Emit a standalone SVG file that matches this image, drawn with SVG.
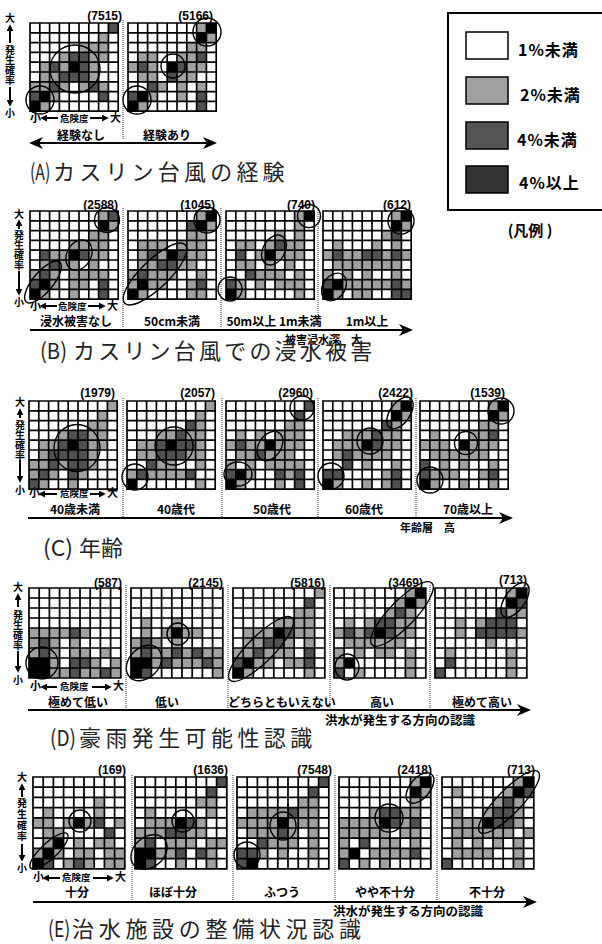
<svg xmlns="http://www.w3.org/2000/svg" xmlns:xlink="http://www.w3.org/1999/xlink" width="602" height="944" viewBox="0 0 602 944">
<style>
.l{fill:none;stroke:#a0a0a0;stroke-width:10}
.d{fill:none;stroke:#505050;stroke-width:10}
.k{fill:none;stroke:#000;stroke-width:10}
.ring{fill:none;stroke:#000;stroke-width:1.4}
.num{font-family:"Liberation Sans",Arial,sans-serif;font-weight:bold;font-size:12px;text-anchor:end;fill:#000}
.cat{font-family:"Noto Sans CJK JP","Liberation Sans",sans-serif;font-weight:bold;font-size:12px;text-anchor:middle;fill:#000}
.sub{font-family:"Noto Sans CJK JP","Liberation Sans",sans-serif;font-weight:bold;font-size:11px;fill:#000}
.vl{font-family:"Noto Sans CJK JP",sans-serif;font-weight:bold;font-size:10px;text-anchor:middle;fill:#000}
.vt{font-family:"Noto Sans CJK JP",sans-serif;font-weight:bold;font-size:10px;writing-mode:vertical-rl;fill:#000}
.hl{font-family:"Noto Sans CJK JP",sans-serif;font-weight:bold;font-size:11px;fill:#000}
.hs{font-family:"Noto Sans CJK JP",sans-serif;font-weight:bold;font-size:9.5px;fill:#000}
.ttl{font-family:"Noto Sans CJK JP","Liberation Sans",sans-serif;font-size:22px;fill:#222}
.leg{font-family:"Noto Sans CJK JP","Liberation Sans",sans-serif;font-weight:bold;font-size:16px;letter-spacing:1px;fill:#000}
.sep{stroke:#333;stroke-width:1;stroke-dasharray:1 1;fill:none}
.sm{stroke:#000;stroke-width:2;fill:none;marker-end:url(#sa)}
.big{stroke:#000;stroke-width:2;fill:none;marker-end:url(#ha)}
.sw{stroke:#000;stroke-width:1.5}
</style>
<defs>
<path id="g" fill="none" stroke="#000" stroke-width="1.7" stroke-linecap="square" d="M0 0V90M10 0V90M20 0V90M30 0V90M40 0V90M50 0V90M60 0V90M70 0V90M80 0V90M90 0V90M0 0H90M0 10H90M0 20H90M0 30H90M0 40H90M0 50H90M0 60H90M0 70H90M0 80H90M0 90H90"/>
<marker id="ha" viewBox="0 0 14 12" refX="12" refY="6" markerWidth="14" markerHeight="12" markerUnits="userSpaceOnUse" orient="auto-start-reverse"><path d="M0 0L14 6L0 12L4 6z" fill="#000"/></marker>
<marker id="sa" viewBox="0 0 8 8" refX="6" refY="4" markerWidth="7" markerHeight="7" markerUnits="userSpaceOnUse" orient="auto"><path d="M0 0L8 4L0 8z" fill="#000"/></marker>
</defs>
<rect width="602" height="944" fill="#fff"/>

<!-- Section A -->
<g id="A1">
<g transform="translate(30,23) scale(.98)">
<path class="l" d="M70 15h10M50 25h30M30 35h10M60 35h20M10 45h10M30 45h10M60 45h10M10 55h20M60 55h10M0 65h20M30 65h10M50 65h10M70 65h10M20 75h10M10 85h10"/>
<path class="d" d="M80 5h10M40 35h20M20 45h10M50 45h10M30 55h30M20 65h10M60 65h10M0 75h10M70 75h10"/>
<path class="k" d="M40 45h10M10 75h10M0 85h10"/>
<use href="#g"/>
</g>
<ellipse class="ring" cx="75" cy="69" rx="25" ry="24"/>
<circle class="ring" cx="40" cy="100" r="14"/>
<text class="num" x="122" y="20">(7515)</text>
</g>
<g id="A2">
<g transform="translate(128,23) scale(.98)">
<path class="l" d="M70 5h10M80 15h10M60 25h20M10 35h20M50 35h20M0 45h10M20 45h10M60 45h20M10 55h20M50 55h20M30 65h10M50 65h10M70 65h10M20 75h10M50 75h10M10 85h10"/>
<path class="d" d="M70 35h10M10 45h10M50 45h10M40 55h10M20 65h10M0 75h10M70 75h10M70 85h10"/>
<path class="k" d="M80 5h10M70 15h10M40 45h10M10 75h10M0 85h10"/>
<use href="#g"/>
</g>
<circle class="ring" cx="207" cy="32" r="14"/>
<circle class="ring" cx="173" cy="66" r="12"/>
<circle class="ring" cx="137" cy="100" r="14"/>
<text class="num" x="213" y="20">(5166)</text>
</g>

<!-- Section B -->
<g id="B1">
<g transform="translate(30,211) scale(.98)">
<path class="l" d="M70 5h10M80 15h10M60 25h20M40 35h40M20 45h20M60 45h20M10 55h10M30 55h20M60 55h10M0 65h10M20 65h10M40 65h40M20 75h10M40 75h20M10 85h10M40 85h10"/>
<path class="d" d="M80 5h10M10 45h10M50 45h10M20 55h10M10 65h10M0 75h10M70 75h10M70 85h10"/>
<path class="k" d="M70 15h10M40 45h10M10 75h10M0 85h10"/>
<use href="#g"/>
</g>
<circle class="ring" cx="107" cy="220" r="12.5"/>
<ellipse class="ring" cx="79" cy="255" rx="16" ry="12" transform="rotate(-60 79 255)"/>
<ellipse class="ring" cx="43" cy="282" rx="26" ry="10" transform="rotate(-50 43 282)"/>
<text class="num" x="118" y="209">(2588)</text>
</g>
<g id="B2">
<g transform="translate(128,211) scale(.98)">
<path class="l" d="M70 5h10M80 15h10M60 25h20M10 35h30M50 35h30M10 45h10M30 45h10M60 45h20M10 55h20M50 55h20M0 65h10M20 65h30M70 65h10M0 75h10M20 75h20M60 75h10M10 85h10M60 85h20"/>
<path class="d" d="M60 15h10M20 45h10M50 45h10M30 55h20M10 65h10M70 75h10"/>
<path class="k" d="M80 5h10M70 15h10M40 45h10M10 75h10M0 85h10"/>
<use href="#g"/>
</g>
<ellipse class="ring" cx="155" cy="274" rx="42" ry="14" transform="rotate(-44 155 274)"/>
<circle class="ring" cx="207" cy="220" r="13"/>
<text class="num" x="215" y="209">(1045)</text>
</g>
<g id="B3">
<g transform="translate(226,211) scale(.98)">
<path class="l" d="M70 5h10M70 15h10M50 25h10M70 25h10M10 35h20M40 35h10M60 35h20M30 45h10M50 45h30M10 55h20M40 55h10M60 55h10M30 65h30M70 65h10M10 75h10M30 75h10M50 75h30M10 85h10M70 85h10"/>
<path class="d" d="M50 35h10M10 45h10M20 65h10M0 75h10"/>
<path class="k" d="M80 5h10M40 45h10M0 85h10"/>
<use href="#g"/>
</g>
<circle class="ring" cx="309" cy="216" r="11.5"/>
<ellipse class="ring" cx="274" cy="250" rx="16" ry="11" transform="rotate(-60 274 250)"/>
<circle class="ring" cx="230" cy="289" r="12"/>
<text class="num" x="315" y="209">(740)</text>
</g>
<g id="B4">
<g transform="translate(323,211) scale(.98)">
<path class="l" d="M70 5h10M80 15h10M60 25h10M10 35h10M50 35h10M70 35h10M0 45h10M20 45h20M60 45h10M80 45h10M10 55h70M0 65h10M20 65h10M40 65h10M70 65h10M20 75h50M80 75h10M10 85h10M30 85h20"/>
<path class="d" d="M70 25h10M10 45h10M40 45h20M70 45h10M0 75h10M70 75h10M70 85h20"/>
<path class="k" d="M80 5h10M70 15h10M10 75h10M0 85h10"/>
<use href="#g"/>
</g>
<circle class="ring" cx="401" cy="221" r="13"/>
<ellipse class="ring" cx="334" cy="287" rx="15" ry="11" transform="rotate(-55 334 287)"/>
<text class="num" x="411" y="209">(612)</text>
</g>

<!-- Section C -->
<g id="C1">
<g transform="translate(29,401) scale(.98)">
<path class="l" d="M80 5h10M70 15h10M60 25h20M30 35h10M60 35h20M10 45h20M60 45h20M10 55h10M60 55h10M0 65h20M30 65h10M60 65h10M0 75h10M20 75h10M50 75h10M10 85h10M40 85h10"/>
<path class="d" d="M40 35h20M30 45h10M50 45h10M20 55h40M20 65h10M40 65h20M10 75h10M40 75h10M0 85h10"/>
<path class="k" d="M40 45h10"/>
<use href="#g"/>
</g>
<ellipse class="ring" cx="77" cy="448" rx="23" ry="23.5"/>
<text class="num" x="115" y="397">(1979)</text>
</g>
<g id="C2">
<g transform="translate(127,401) scale(.98)">
<path class="l" d="M80 5h10M70 15h10M70 25h10M30 35h20M60 35h20M10 45h20M70 45h10M10 55h20M60 55h20M30 65h20M70 65h10M0 75h10M20 75h40M70 85h10"/>
<path class="d" d="M60 25h10M50 35h10M30 45h10M50 45h20M30 55h30M20 65h10M10 75h10M60 75h10"/>
<path class="k" d="M40 45h10M0 85h10"/>
<use href="#g"/>
</g>
<circle class="ring" cx="174" cy="446" r="19"/>
<circle class="ring" cx="135" cy="477" r="13"/>
<text class="num" x="215" y="397">(2057)</text>
</g>
<g id="C3">
<g transform="translate(226,401) scale(.98)">
<path class="l" d="M60 25h20M10 35h10M30 35h10M50 35h30M0 45h10M20 45h20M50 45h30M10 55h20M40 55h30M0 65h10M20 65h10M40 65h40M20 75h10M60 75h10M10 85h10M50 85h10"/>
<path class="d" d="M80 5h10M70 15h10M10 45h10M30 55h10M0 75h10M50 75h10M70 75h10M70 85h10"/>
<path class="k" d="M40 45h10M10 75h10M0 85h10"/>
<use href="#g"/>
</g>
<circle class="ring" cx="302" cy="408" r="12"/>
<ellipse class="ring" cx="270" cy="446" rx="16" ry="11" transform="rotate(-55 270 446)"/>
<ellipse class="ring" cx="238" cy="474" rx="14" ry="12"/>
<text class="num" x="313" y="397">(2960)</text>
</g>
<g id="C4">
<g transform="translate(323,401) scale(.98)">
<path class="l" d="M70 5h10M80 15h10M70 25h10M20 35h30M60 35h20M10 45h30M60 45h20M10 55h10M30 55h40M40 65h10M70 65h10M60 75h10M10 85h10M40 85h10M60 85h10"/>
<path class="d" d="M60 25h10M50 35h10M50 45h10M20 55h10M20 65h10M0 75h20M70 75h10M70 85h10"/>
<path class="k" d="M80 5h10M70 15h10M40 45h10M0 85h10"/>
<use href="#g"/>
</g>
<ellipse class="ring" cx="400" cy="413" rx="18" ry="10" transform="rotate(-55 400 413)"/>
<circle class="ring" cx="370" cy="441" r="13"/>
<circle class="ring" cx="331" cy="476" r="13"/>
<text class="num" x="413" y="397">(2422)</text>
</g>
<g id="C5">
<g transform="translate(420,401) scale(.98)">
<path class="l" d="M70 5h10M80 15h10M60 25h20M10 35h10M50 35h20M0 45h30M50 45h30M10 55h60M20 65h10M40 65h10M70 65h10M10 75h30M60 75h10M10 85h10M40 85h10M70 85h10"/>
<path class="d" d="M70 35h10M0 65h10M0 75h10M70 75h10"/>
<path class="k" d="M80 5h10M70 15h10M40 45h10M0 85h10"/>
<use href="#g"/>
</g>
<circle class="ring" cx="501" cy="411" r="13"/>
<circle class="ring" cx="466" cy="443" r="11.5"/>
<circle class="ring" cx="430" cy="480" r="13"/>
<text class="num" x="505" y="397">(1539)</text>
</g>

<!-- Section D -->
<g id="D1">
<g transform="translate(29,588) scale(1.02,1)">
<path class="l" d="M0 45h40M50 45h10M0 55h10M20 55h10M40 55h10M0 65h10M20 65h10M40 65h20M70 65h10M20 75h10M60 75h10M80 75h10M20 85h20M50 85h20M80 85h10"/>
<path class="d" d="M40 45h10M10 55h10M10 65h10M40 75h20M40 85h10M70 85h10"/>
<path class="k" d="M0 75h20M0 85h20"/>
<use href="#g"/>
</g>
<circle class="ring" cx="42" cy="663" r="16"/>
<text class="num" x="122" y="587">(587)</text>
</g>
<g id="D2">
<g transform="translate(131,588) scale(1.02,1)">
<path class="l" d="M10 35h10M40 35h10M10 45h10M30 45h10M50 45h20M0 55h10M20 55h10M40 55h10M0 65h10M20 65h20M50 65h10M70 65h20M20 75h10M40 75h30M80 75h10M80 85h10"/>
<path class="d" d="M10 55h10M10 65h10M40 65h10M60 65h10M30 75h10M70 75h10M10 85h10"/>
<path class="k" d="M40 45h10M0 75h20M0 85h10"/>
<use href="#g"/>
</g>
<ellipse class="ring" cx="144" cy="663" rx="20" ry="15" transform="rotate(-45 144 663)"/>
<circle class="ring" cx="178" cy="634" r="11"/>
<text class="num" x="223" y="587">(2145)</text>
</g>
<g id="D3">
<g transform="translate(233,588) scale(1.02,1)">
<path class="l" d="M80 5h10M60 25h20M40 35h40M10 45h30M60 45h20M10 55h20M50 55h10M70 55h10M0 65h20M30 65h30M20 75h20M50 75h20M10 85h10M70 85h10"/>
<path class="d" d="M70 15h10M50 45h10M30 55h20M20 65h10M70 65h10M0 75h10M70 75h10"/>
<path class="k" d="M40 45h10M10 75h10M0 85h10"/>
<use href="#g"/>
</g>
<ellipse class="ring" cx="261" cy="649" rx="44" ry="13" transform="rotate(-45 261 649)"/>
<text class="num" x="325" y="587">(5816)</text>
</g>
<g id="D4">
<g transform="translate(334,588) scale(1.02,1)">
<path class="l" d="M70 5h10M60 15h10M80 15h10M50 25h10M70 25h10M10 35h10M30 35h10M60 35h20M0 45h10M20 45h10M60 45h20M10 55h60M0 65h10M20 65h10M40 65h20M70 65h10M0 75h10M70 75h10M20 85h10M70 85h10"/>
<path class="d" d="M60 25h10M40 35h20M10 45h10M30 45h10M50 45h10M0 85h10"/>
<path class="k" d="M80 5h10M70 15h10M40 45h10M10 75h10"/>
<use href="#g"/>
</g>
<ellipse class="ring" cx="402" cy="614" rx="43" ry="13" transform="rotate(-46 402 614)"/>
<ellipse class="ring" cx="347" cy="667" rx="12" ry="13"/>
<text class="num" x="423" y="587">(3469)</text>
</g>
<g id="D5">
<g transform="translate(435,588) scale(1.02,1)">
<path class="l" d="M70 5h10M70 25h20M20 35h10M40 35h10M20 45h10M80 45h10M50 55h10M10 65h10M70 65h10M70 75h10M70 85h10"/>
<path class="d" d="M80 15h10M60 25h10M50 35h30M40 45h40M10 75h10M0 85h10"/>
<path class="k" d="M80 5h10M70 15h10"/>
<use href="#g"/>
</g>
<ellipse class="ring" cx="515" cy="600" rx="20" ry="10" transform="rotate(-55 515 600)"/>
<text class="num" x="527" y="584">(713)</text>
</g>

<!-- Section E -->
<g id="E1">
<g transform="translate(33,777) scale(1.02)">
<path class="l" d="M60 25h10M10 35h10M60 35h10M0 45h20M30 45h10M50 45h10M80 45h10M10 55h20M10 65h10M40 65h10M60 65h20M0 75h10M20 75h10M40 75h20M70 75h20M30 85h10M50 85h10M70 85h20"/>
<path class="d" d="M60 45h10M70 55h10M10 85h10M40 85h10"/>
<path class="k" d="M40 45h10M20 65h10M10 75h10M0 85h10"/>
<use href="#g"/>
</g>
<circle class="ring" cx="80" cy="821" r="11"/>
<ellipse class="ring" cx="49" cy="851" rx="25" ry="8" transform="rotate(-43 49 851)"/>
<text class="num" x="126" y="774">(169)</text>
</g>
<g id="E2">
<g transform="translate(135,777) scale(1.02)">
<path class="l" d="M60 25h20M10 35h10M70 35h10M10 45h30M60 45h10M0 55h30M50 55h20M0 65h10M30 65h30M70 65h20M20 75h20M70 75h10M40 85h10M70 85h10"/>
<path class="d" d="M80 5h10M70 15h10M50 45h10M30 55h20M10 65h10M40 75h10M60 75h10M10 85h10"/>
<path class="k" d="M40 45h10M0 75h20M0 85h10"/>
<use href="#g"/>
</g>
<circle class="ring" cx="183" cy="821" r="11"/>
<ellipse class="ring" cx="149" cy="852" rx="20" ry="15" transform="rotate(-40 149 852)"/>
<text class="num" x="228" y="774">(1636)</text>
</g>
<g id="E3">
<g transform="translate(237,777) scale(1.02)">
<path class="l" d="M60 25h20M10 35h40M60 35h20M0 45h40M50 45h30M10 55h30M50 55h10M70 55h10M30 65h30M70 65h10M20 75h10M40 75h10M70 75h10"/>
<path class="d" d="M80 5h10M70 15h10M50 35h10M40 55h10M20 65h10M0 75h20M0 85h10"/>
<path class="k" d="M40 45h10M10 85h10"/>
<use href="#g"/>
</g>
<ellipse class="ring" cx="283" cy="826" rx="13" ry="14"/>
<circle class="ring" cx="247" cy="855" r="13"/>
<text class="num" x="332" y="774">(7548)</text>
</g>
<g id="E4">
<g transform="translate(339,777) scale(1.02)">
<path class="l" d="M70 5h10M80 15h10M70 25h10M30 35h10M60 35h20M0 45h40M60 45h10M0 55h50M60 55h20M0 65h10M40 65h20M70 65h10M0 75h10M30 75h40M20 85h10M40 85h10"/>
<path class="d" d="M40 35h20M50 45h10M70 45h10M20 65h10M70 75h10M0 85h10"/>
<path class="k" d="M80 5h10M70 15h10M40 45h10M10 75h10"/>
<use href="#g"/>
</g>
<ellipse class="ring" cx="420" cy="788" rx="18" ry="10" transform="rotate(-50 420 788)"/>
<circle class="ring" cx="389" cy="818" r="14"/>
<text class="num" x="432" y="774">(2418)</text>
</g>
<g id="E5">
<g transform="translate(442,777) scale(1.02)">
<path class="l" d="M70 5h10M10 15h10M60 15h10M50 25h10M70 25h10M10 35h10M40 35h10M70 35h10M10 45h30M70 45h10M10 55h60M80 55h10M10 65h10M30 65h10M50 65h10M70 65h10M10 75h40M70 75h10M70 85h10"/>
<path class="d" d="M80 15h10M60 25h10M50 35h20M50 45h20M0 85h10"/>
<path class="k" d="M80 5h10M70 15h10M40 45h10"/>
<use href="#g"/>
</g>
<ellipse class="ring" cx="509" cy="802" rx="42" ry="12" transform="rotate(-46 509 802)"/>
<text class="num" x="535" y="774">(713)</text>
</g>

<!-- Legend -->
<g id="legend">
<rect x="448" y="13" width="170" height="197" fill="#fff" stroke="#000" stroke-width="2"/>
<rect class="sw" x="466" y="32" width="42" height="27" fill="#fff"/>
<rect class="sw" x="466" y="77" width="42" height="27" fill="#a0a0a0"/>
<rect class="sw" x="466" y="122" width="42" height="27" fill="#555"/>
<rect class="sw" x="466" y="166" width="42" height="27" fill="#333"/>
<text class="leg" x="518" y="56">1%未満</text>
<text class="leg" x="520" y="101">2%未満</text>
<text class="leg" x="517" y="146">4%未満</text>
<text class="leg" x="519" y="189">4%以上</text>
<text class="leg" x="530" y="236" text-anchor="middle" style="font-size:15px;letter-spacing:0">(凡例 )</text>
</g>

<!-- separators -->
<g id="separators">
<path class="sep" d="M123 20V140M123 208V328M221 208V328M318 208V328M123 398V517M222 398V517M318 398V517M416 398V517M126 585V708M228 585V708M330 585V708M430 585V708M132 775V900M233 775V900M335 775V900M437 775V900"/>
</g>

<!-- axis labels -->
<g id="axis-labels">
<text class="vl" x="10" y="22">大</text><text class="vt" x="10" y="45">発生確率</text><text class="vl" x="10" y="117">小</text>
<text class="hl" x="30" y="122">小</text><text class="hs" x="60" y="122">危険度</text><text class="hl" x="110" y="122">大</text>

<text class="vl" x="19" y="218">大</text><text class="vt" x="19" y="230">発生確率</text><text class="vl" x="19" y="306">小</text>
<text class="hl" x="30" y="310">小</text><text class="hs" x="58" y="310">危険度</text><text class="hl" x="107" y="310">大</text>

<text class="vl" x="20" y="406">大</text><text class="vt" x="20" y="420">発生確率</text><text class="vl" x="20" y="494">小</text>
<text class="hl" x="29" y="497">小</text><text class="hs" x="60" y="497">危険度</text><text class="hl" x="107" y="497">大</text>

<text class="vl" x="18" y="591">大</text><text class="vt" x="18" y="610">発生確率</text><text class="vl" x="18" y="684">小</text>
<text class="hl" x="30" y="690">小</text><text class="hs" x="60" y="690">危険度</text><text class="hl" x="113" y="690">大</text>

<text class="vl" x="22" y="781">大</text><text class="vt" x="22" y="798" style="letter-spacing:1px">発生確率</text><text class="vl" x="22" y="872">小</text>
<text class="hl" x="33" y="881">小</text><text class="hs" x="62" y="881">危険度</text><text class="hl" x="115" y="881">大</text>
</g>

<!-- connectors (arrows) -->
<g id="connectors">
<line class="sm" x1="10" y1="43" x2="10" y2="26"/><line class="sm" x1="10" y1="87" x2="10" y2="105"/>
<line class="sm" x1="58" y1="118" x2="42" y2="118"/><line class="sm" x1="90" y1="118" x2="107" y2="118"/>
<line class="big" x1="31" y1="143" x2="215" y2="143" style="marker-start:url(#ha)"/>

<line class="sm" x1="19" y1="229" x2="19" y2="221"/><line class="sm" x1="19" y1="271" x2="19" y2="294"/>
<line class="sm" x1="57" y1="306" x2="41" y2="306"/><line class="sm" x1="88" y1="306" x2="104" y2="306"/>
<line class="big" x1="30" y1="330" x2="411" y2="330"/>

<line class="sm" x1="20" y1="418" x2="20" y2="410"/><line class="sm" x1="20" y1="460" x2="20" y2="481"/>
<line class="sm" x1="57" y1="494" x2="40" y2="494"/><line class="sm" x1="90" y1="494" x2="104" y2="494"/>
<line class="big" x1="28" y1="518" x2="511" y2="518"/>

<line class="sm" x1="18" y1="607" x2="18" y2="595"/><line class="sm" x1="18" y1="651" x2="18" y2="671"/>
<line class="sm" x1="57" y1="687" x2="42" y2="687"/><line class="sm" x1="92" y1="687" x2="110" y2="687"/>
<line class="big" x1="28" y1="710" x2="529" y2="710"/>

<line class="sm" x1="22" y1="797" x2="22" y2="785"/><line class="sm" x1="22" y1="844" x2="22" y2="860"/>
<line class="sm" x1="60" y1="878" x2="44" y2="878"/><line class="sm" x1="93" y1="878" x2="112" y2="878"/>
<line class="big" x1="33" y1="902" x2="535" y2="902"/>
</g>

<!-- category labels -->
<g id="categories">
<text class="cat" x="81" y="140">経験なし</text><text class="cat" x="167" y="140">経験あり</text>
<text class="cat" x="76" y="326">浸水被害なし</text><text class="cat" x="172" y="326">50cm未満</text><text class="cat" x="274" y="326">50m以上 1m未満</text><text class="cat" x="367" y="326">1m以上</text>
<text class="sub" x="285" y="344">被害浸水深　大</text>
<text class="cat" x="75" y="514">40歳未満</text><text class="cat" x="176" y="514">40歳代</text><text class="cat" x="272" y="514">50歳代</text><text class="cat" x="364" y="514">60歳代</text><text class="cat" x="468" y="514">70歳以上</text>
<text class="sub" x="400" y="532">年齢層　高</text>
<text class="cat" x="78" y="707">極めて低い</text><text class="cat" x="167" y="707">低い</text><text class="cat" x="282" y="707">どちらともいえない</text><text class="cat" x="382" y="707">高い</text><text class="cat" x="482" y="707">極めて高い</text>
<text class="sub" x="325" y="725" style="font-size:12.5px">洪水が発生する方向の認識</text>
<text class="cat" x="77" y="897">十分</text><text class="cat" x="173" y="897">ほぼ十分</text><text class="cat" x="282" y="897">ふつう</text><text class="cat" x="385" y="897">やや不十分</text><text class="cat" x="487" y="897">不十分</text>
<text class="sub" x="333" y="916" style="font-size:12.5px">洪水が発生する方向の認識</text>
</g>

<!-- titles -->
<g id="titles">
<text class="ttl" transform="translate(30 180) scale(.72 1)">(A)</text>
<text class="ttl" x="53" y="180" style="letter-spacing:4.2px">カスリン台風の経験</text>
<text class="ttl" x="40" y="359" textLength="27" lengthAdjust="spacingAndGlyphs">(B)</text>
<text class="ttl" x="73" y="359" style="letter-spacing:3.2px">カスリン台風での浸水被害</text>
<text class="ttl" x="43" y="556" textLength="30" lengthAdjust="spacingAndGlyphs">(C)</text>
<text class="ttl" x="79" y="556">年齢</text>
<text class="ttl" x="50" y="746" textLength="26" lengthAdjust="spacingAndGlyphs">(D)</text>
<text class="ttl" x="79" y="746" style="letter-spacing:4.4px">豪雨発生可能性認識</text>
<text class="ttl" transform="translate(48 937) scale(.8 1)">(E)</text>
<text class="ttl" x="72" y="937" style="letter-spacing:4.7px">治水施設の整備状況認識</text>
</g>
</svg>
